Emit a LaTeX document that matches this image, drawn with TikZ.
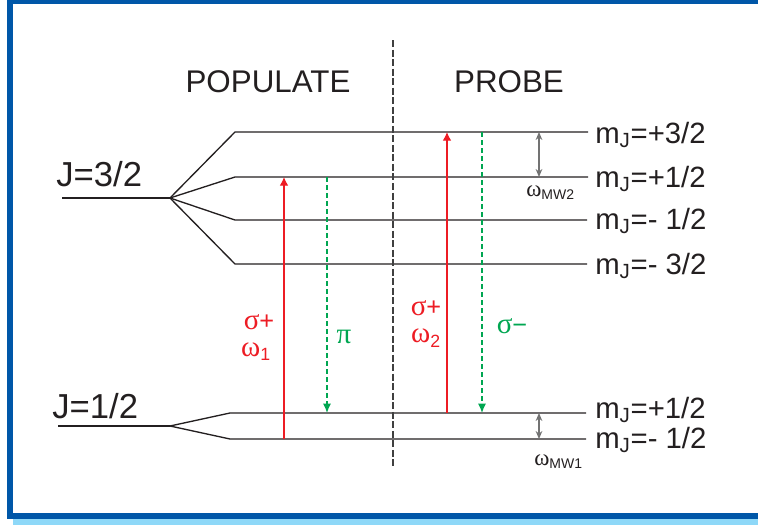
\documentclass[tikz,border=0pt]{standalone}
\usepackage{fontspec}
\setmainfont{Liberation Sans}
\newfontfamily\grk[Scale=1.15]{Liberation Serif}
\usepackage{tikz}
\usetikzlibrary{arrows.meta,positioning,calc}
\definecolor{FrameBlue}{RGB}{0,87,168}
\definecolor{FrameLight}{RGB}{142,216,248}
\definecolor{PumpRed}{RGB}{237,28,36}
\definecolor{ProbeGreen}{RGB}{0,166,81}
\definecolor{LvlBlack}{RGB}{35,31,32}
\newcommand{\mj}[1]{m\textsubscript{J}=#1}
\tikzset{
  lvl/.style={line width=1pt,draw=LvlBlack},
  hdr/.style={font=\fontsize{23.5}{27}\selectfont,text=LvlBlack,inner sep=0pt},
  jlab/.style={font=\fontsize{26}{30}\selectfont,text=LvlBlack,anchor=base west,inner sep=0pt},
  mlab/.style={font=\fontsize{22}{26}\selectfont,text=LvlBlack,anchor=base west,inner sep=0pt},
  wlab/.style={font=\fontsize{15}{17}\selectfont,text=LvlBlack,anchor=base west,inner sep=0pt},
  tlab/.style={font=\fontsize{19}{22}\selectfont,inner sep=0pt},
  pump/.style={-{Latex[length=6.5pt,width=6.5pt]},line width=0.9pt,PumpRed},
  emit/.style={-{Latex[length=7pt,width=6pt]},line width=0.9pt,ProbeGreen,
               dash pattern=on 3.75pt off 2.25pt},
  mw/.style={{Stealth[length=6pt,width=5pt]}-{Stealth[length=6pt,width=5pt]},
             line width=0.9pt,black!55},
  divider/.style={line width=0.8pt,black!75,dash pattern=on 5.25pt off 1.9pt},
}

\begin{document}
\begin{tikzpicture}[x=0.75pt,y=-0.75pt]
  \useasboundingbox (0,0) rectangle (758,525);
  % frame
  \fill[FrameBlue] (7,0) rectangle (758,4);
  \fill[FrameBlue] (7,0) rectangle (13,519);
  \fill[FrameBlue] (7,513) rectangle (758,519);
  \fill[FrameLight] (13,519) rectangle (758,525);

  % J=3/2 and its sublevels
  \coordinate (j32) at (62,198);   \coordinate (f32) at (170,198);
  \coordinate (u3L) at (235,132);  \coordinate (u3R) at (588,132);
  \coordinate (u1L) at (235,177);  \coordinate (u1R) at (588,177);
  \coordinate (um1L) at (235,220); \coordinate (um1R) at (587,220);
  \coordinate (um3L) at (235,264); \coordinate (um3R) at (587,264);
  % J=1/2 and its sublevels
  \coordinate (j12) at (58,426);   \coordinate (f12) at (170,426);
  \coordinate (l1L) at (230,413);  \coordinate (l1R) at (586,413);
  \coordinate (lm1L) at (230,439); \coordinate (lm1R) at (586,439);

  \draw[lvl] (j32) -- (f32);
  \foreach \s in {u3,u1,um1,um3}
    \draw[lvl] (f32) -- (\s L) -- (\s R);
  \draw[lvl] (j12) -- (f12);
  \foreach \s in {l1,lm1}
    \draw[lvl] (f12) -- (\s L) -- (\s R);

  \coordinate (dtop) at (393,40); \coordinate (dbot) at (393,468);
  \draw[divider] (dtop) -- (dbot);

  \node[hdr] (populate) at (268,82) {POPULATE};
  \node[hdr] (probe) at (509,82) {PROBE};
  \node[jlab] (jhi) at (56,186) {J=3/2};
  \node[jlab] (jlo) at (52,418) {J=1/2};

  \node[mlab] (m3) at (595,143) {\mj{+3/2}};
  \node[mlab] (m1) at (595,187) {\mj{+1/2}};
  \node[mlab] (mm1) at (595,229) {\mj{- 1/2}};
  \node[mlab] (mm3) at (595,274) {\mj{- 3/2}};
  \node[mlab] (n1) at (595,418) {\mj{+1/2}};
  \node[mlab] (nm1) at (595,448) {\mj{- 1/2}};

  % transitions
  \coordinate (xa) at (284,0); \coordinate (xb) at (327,0);
  \coordinate (xc) at (447,0); \coordinate (xd) at (482,0);
  \coordinate (xe) at (539,0);
  \draw[pump] (xa |- lm1L) -- (xa |- u1L);
  \draw[emit] (xb |- u1L) -- (xb |- l1L);
  \draw[pump] (xc |- l1L) -- (xc |- u3L);
  \draw[emit] (xd |- u3L) -- (xd |- l1L);
  \draw[mw] (xe |- u3L) -- (xe |- u1L);
  \draw[mw] (xe |- l1L) -- (xe |- lm1L);

  \node[tlab,text=PumpRed] (sa) at (259,322) {{\grk σ}+};
  \node[tlab,text=PumpRed] (wa) at (256,352) {{\grk ω}\textsubscript{1}};
  \node[tlab,text=ProbeGreen] (pb) at (344,337) {{\grk π}};
  \node[tlab,text=PumpRed] (sc) at (426,308) {{\grk σ}+};
  \node[tlab,text=PumpRed] (wc) at (426,338) {{\grk ω}\textsubscript{2}};
  \node[tlab,text=ProbeGreen] (sd) at (512,326) {{\grk σ}−};
  \node[wlab] (mw2) at (526,196) {{\grk ω}\textsubscript{MW2}};
  \node[wlab] (mw1) at (534,465) {{\grk ω}\textsubscript{MW1}};
\end{tikzpicture}
\end{document}
